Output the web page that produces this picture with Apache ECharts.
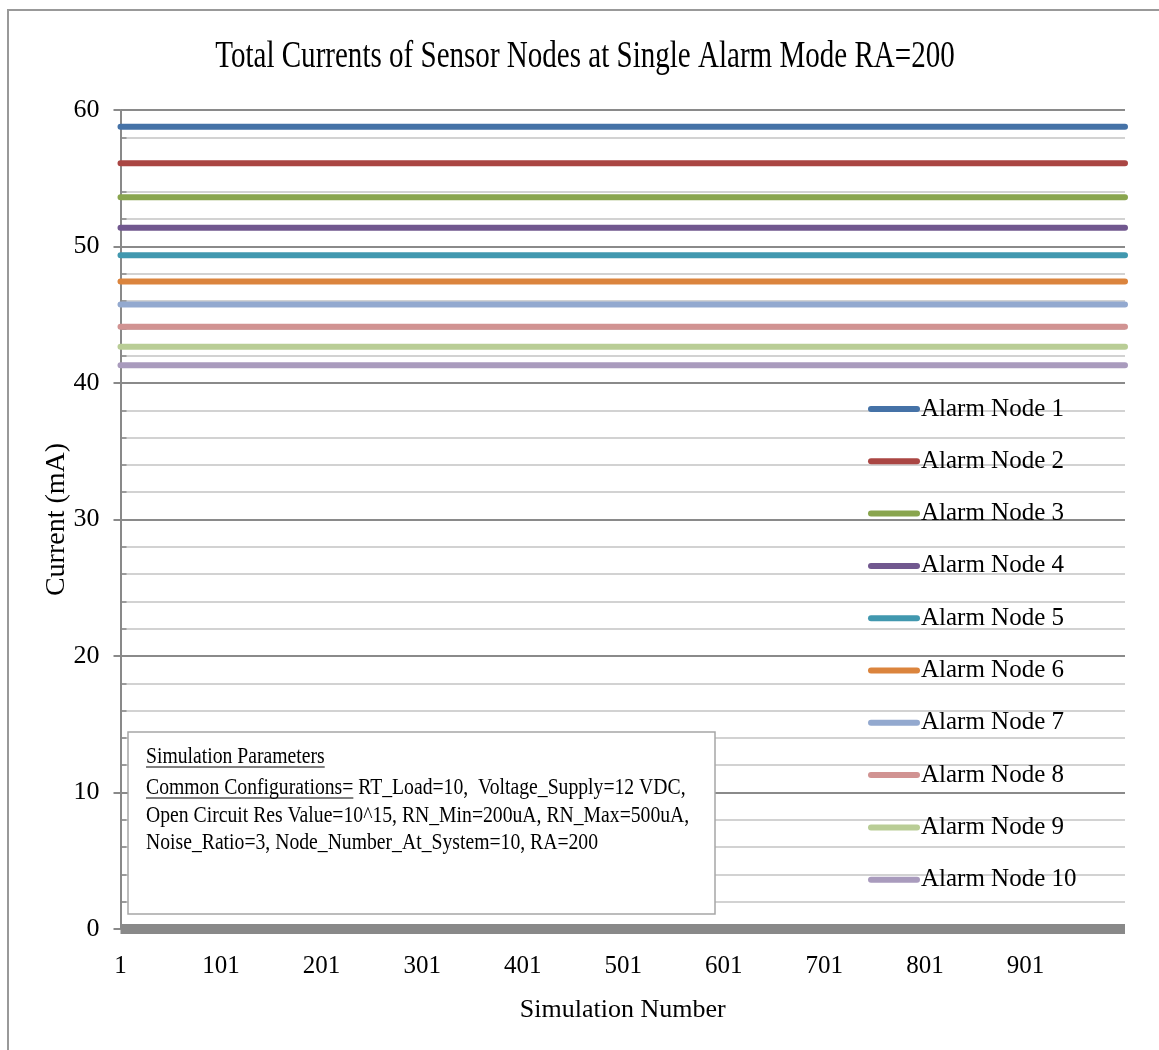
<!DOCTYPE html>
<html>
<head>
<meta charset="utf-8">
<script src="https://cdn.jsdelivr.net/npm/echarts@6/dist/echarts.min.js"></script>
<style>
html,body{margin:0;padding:0;background:#fff;}
#chart{width:1159px;height:1050px;}
</style>
</head>
<body>
<div id="chart"></div>
<script>
// ---- data ----
const chartTitle = 'Total Currents of Sensor Nodes at Single Alarm Mode RA=200';
const simulationNumbers = Array.from({length: 1000}, (_, i) => String(i + 1));
const nodeNames = ['Alarm Node 1','Alarm Node 2','Alarm Node 3','Alarm Node 4','Alarm Node 5',
                   'Alarm Node 6','Alarm Node 7','Alarm Node 8','Alarm Node 9','Alarm Node 10'];
const nodeCurrents = [58.78, 56.09, 53.60, 51.38, 49.35, 47.44, 45.76, 44.12, 42.66, 41.30];
const nodeColors = ['#4572A7','#AA4643','#89A54E','#71588F','#4198AF',
                    '#DB843D','#93A9CF','#D19392','#B9CD96','#A99BBD'];
const paramLines = [
  'Simulation Parameters',
  'Common Configurations= RT_Load=10,  Voltage_Supply=12 VDC,',
  'Open Circuit Res Value=10^15, RN_Min=200uA, RN_Max=500uA,',
  'Noise_Ratio=3, Node_Number_At_System=10, RA=200'
];
const underlinedParts = ['Simulation Parameters', 'Common Configurations='];

const FONT = '"Liberation Serif", "Times New Roman", serif';

// measure text for underlines
const mctx = document.createElement('canvas').getContext('2d');
function textW(str, size) { mctx.font = size + 'px ' + FONT; return mctx.measureText(str).width; }

const boxFont = 24, boxScale = 0.82;
const boxLineY = [757, 788, 816, 843];
const boxElems = [
  { type: 'rect', shape: { x: 128, y: 732, width: 587, height: 182 },
    style: { fill: '#fff', stroke: '#a6a6a6', lineWidth: 1.5 }, z: 100 }
];
paramLines.forEach((t, i) => {
  boxElems.push({ type: 'text', x: 146, y: boxLineY[i], scaleX: boxScale, z: 101,
    style: { text: t, x: 0, y: 0, font: boxFont + 'px ' + FONT, fill: '#000',
             textAlign: 'left', textVerticalAlign: 'middle' } });
});
underlinedParts.forEach((t, i) => {
  const w = textW(t, boxFont) * boxScale;
  boxElems.push({ type: 'line', z: 101,
    shape: { x1: 146, y1: boxLineY[i] + 10, x2: 146 + w, y2: boxLineY[i] + 10 },
    style: { stroke: '#000', lineWidth: 1 } });
});

const chart = echarts.init(document.getElementById('chart'), null, { renderer: 'canvas' });
chart.setOption({
  animation: false,
  backgroundColor: '#fff',
  grid: { left: 120.5, right: 34, top: 110, bottom: 121, containLabel: false },
  legend: {
    orient: 'vertical', left: 868, top: 394, padding: 0,
    data: nodeNames,
    itemWidth: 52, itemHeight: 6, itemGap: 22.3,
    icon: 'path://M3,0 H49 A3,3 0 0 1 49,6 H3 A3,3 0 0 1 3,0 Z',
    textStyle: { fontFamily: FONT, fontSize: 25, color: '#000', lineHeight: 30, padding: [0, 0, 0, -4] },
    selectedMode: false
  },
  xAxis: {
    type: 'category', data: simulationNumbers, boundaryGap: false, offset: 4,
    name: 'Simulation Number', nameLocation: 'middle', nameGap: 64, nameMoveOverlap: false,
    nameTextStyle: { fontFamily: FONT, fontSize: 26, color: '#000' },
    axisLine: { lineStyle: { color: '#898989', width: 10, cap: 'butt' } },
    axisTick: { show: false },
    axisLabel: { interval: 99, fontFamily: FONT, fontSize: 25, color: '#000', margin: 21 },
    splitLine: { show: false }
  },
  yAxis: {
    type: 'value', min: 0, max: 60, interval: 10,
    name: 'Current (mA)', nameLocation: 'middle', nameGap: 50, nameMoveOverlap: false,
    nameTextStyle: { fontFamily: FONT, fontSize: 28, color: '#000' },
    axisLine: { show: true, lineStyle: { color: '#898989', width: 2 } },
    axisTick: { show: true, length: 7, lineStyle: { color: '#898989', width: 2 } },
    minorTick: { show: true, splitNumber: 5, length: -6, lineStyle: { color: '#898989', width: 1.5 } },
    axisLabel: { fontFamily: FONT, fontSize: 26, color: '#000', margin: 21 },
    splitLine: { show: true, lineStyle: { color: '#8a8a8a', width: 2 } },
    minorSplitLine: { show: true, lineStyle: { color: '#c4c4c4', width: 1.5 } }
  },
  series: nodeNames.map((n, i) => ({
    name: n, type: 'line', symbol: 'none', showSymbol: false,
    data: simulationNumbers.map(() => nodeCurrents[i]),
    itemStyle: { color: nodeColors[i] },
    lineStyle: { color: nodeColors[i], width: 6, cap: 'round' },
    z: 3
  })),
  graphic: [
    { type: 'rect', shape: { x: 8, y: 10, width: 1200, height: 1100 },
      style: { fill: 'none', stroke: '#999', lineWidth: 2 }, z: 0, silent: true },
    { type: 'text', x: 585, y: 57, scaleX: 0.785, z: 100,
      style: { text: chartTitle, x: 0, y: 0, font: '37px ' + FONT, fill: '#000',
               textAlign: 'center', textVerticalAlign: 'middle' } },
    ...boxElems
  ]
});
</script>
</body>
</html>
